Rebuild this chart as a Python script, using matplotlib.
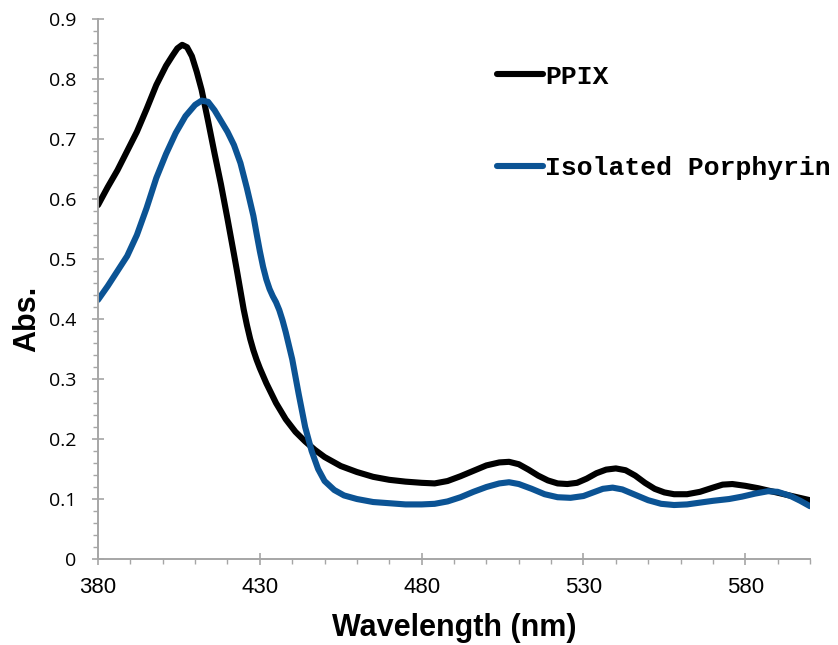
import matplotlib
matplotlib.use("Agg")
import matplotlib.pyplot as plt
from matplotlib.ticker import MultipleLocator

# --- data ---
ppix_nm = [380, 383, 386, 389, 392, 395, 398, 401, 403, 404.5, 406, 407.5, 409, 410.5, 412, 414, 416, 418,
           420, 422, 423, 424, 425, 426, 427, 428, 429, 430, 432, 435, 438, 441, 444, 447, 450, 455, 460,
           465, 470, 475, 480, 484, 488, 492, 496, 500, 504, 507, 510, 513, 516, 519, 522, 525, 528, 531,
           534, 537, 540, 543, 546, 549, 552, 555, 558, 562, 566, 570, 573, 576, 580, 584, 588, 592, 596, 600]
ppix_abs = [0.59, 0.62, 0.648, 0.68, 0.712, 0.75, 0.79, 0.822, 0.839, 0.851, 0.857, 0.853, 0.838, 0.812,
            0.782, 0.73, 0.676, 0.624, 0.567, 0.508, 0.478, 0.447, 0.416, 0.39, 0.367, 0.348, 0.332,
            0.318, 0.293, 0.26, 0.233, 0.212, 0.196, 0.182, 0.17, 0.155, 0.145, 0.137, 0.132, 0.129,
            0.127, 0.126, 0.13, 0.138, 0.147, 0.156, 0.161, 0.162, 0.158, 0.149, 0.139, 0.131, 0.126,
            0.125, 0.127, 0.134, 0.143, 0.149, 0.151, 0.148, 0.139, 0.127, 0.117, 0.111, 0.108, 0.108,
            0.112, 0.119, 0.124, 0.125, 0.122, 0.118, 0.113, 0.108, 0.103, 0.098]

iso_nm = [380, 383, 386, 389, 392, 395, 398, 401, 404, 407, 410, 412, 414, 416, 418, 420, 422, 424,
          426, 428, 429, 430, 431, 432, 433, 434, 435, 436, 437, 438, 440, 442, 444, 446, 448, 450, 453,
          456, 460, 465, 470, 475, 480, 484, 488, 492, 496, 500, 504, 507, 510, 514, 518, 522, 526, 530,
          533, 536, 539, 542, 546, 550, 554, 558, 562, 566, 570, 575, 579, 583, 587, 590, 594, 597, 600]
iso_abs = [0.432, 0.455, 0.48, 0.505, 0.54, 0.585, 0.635, 0.675, 0.71, 0.738, 0.757, 0.764, 0.762,
           0.748, 0.73, 0.712, 0.69, 0.66, 0.618, 0.572, 0.542, 0.513, 0.487, 0.466, 0.45, 0.438, 0.428,
           0.415, 0.398, 0.378, 0.333, 0.275, 0.22, 0.18, 0.15, 0.13, 0.115, 0.106, 0.1, 0.095, 0.093,
           0.091, 0.091, 0.092, 0.096, 0.103, 0.112, 0.12, 0.126, 0.128, 0.125, 0.117, 0.108, 0.103,
           0.102, 0.105, 0.111, 0.117, 0.119, 0.116, 0.107, 0.098, 0.092, 0.09, 0.091, 0.094, 0.097,
           0.1, 0.104, 0.109, 0.113, 0.112, 0.105, 0.097, 0.088]

series_labels = ["PPIX", "Isolated Porphyrin"]
x_ticks = [380, 430, 480, 530, 580]
y_ticks = [0, 0.1, 0.2, 0.3, 0.4, 0.5, 0.6, 0.7, 0.8, 0.9]
y_tick_labels = ["0", "0.1", "0.2", "0.3", "0.4", "0.5", "0.6", "0.7", "0.8", "0.9"]

fig = plt.figure(figsize=(8.38, 6.45), dpi=100)
ax = fig.add_axes([0.117, 0.1333, 0.8496, 0.8372])

lw = 4.4
ax.plot(ppix_nm, ppix_abs, color="#000000", lw=lw, label=series_labels[0],
        solid_capstyle="round", solid_joinstyle="round")
ax.plot(iso_nm, iso_abs, color="#0b5394", lw=lw, label=series_labels[1],
        solid_capstyle="round", solid_joinstyle="round")

ax.set_xlim(380, 600)
ax.set_ylim(0, 0.9)
ax.set_xticks(x_ticks)
ax.set_yticks(y_ticks)
ax.set_yticklabels(y_tick_labels)
ax.xaxis.set_minor_locator(MultipleLocator(10))
ax.yaxis.set_minor_locator(MultipleLocator(0.02))

grey = "#a6a6a6"
for s in ["top", "right"]:
    ax.spines[s].set_visible(False)
for s in ["left", "bottom"]:
    ax.spines[s].set_color(grey)
    ax.spines[s].set_linewidth(1.4)

ax.tick_params(which="major", direction="inout", length=9, width=1.2, color=grey)
ax.tick_params(which="minor", direction="out", length=3.5, width=1.0, color=grey)
ax.tick_params(axis="y", which="major", pad=11, labelsize=14)
ax.tick_params(axis="x", which="major", pad=8.5, labelsize=16)
for t in ax.get_xticklabels():
    t.set_fontfamily("Liberation Sans")
for t in ax.get_yticklabels():
    t.set_fontfamily("Open Sans")

ax.set_xlabel("Wavelength (nm)", fontsize=22, fontweight="bold", family="Liberation Sans", labelpad=11)
ax.set_ylabel("Abs.", fontsize=22, fontweight="bold", family="Liberation Sans")
ax.yaxis.set_label_coords(-0.078, 0.445)

leg = ax.legend(loc="upper left", bbox_to_anchor=(0.545, 0.935), frameon=False,
                prop={"family": "Liberation Mono", "weight": "bold", "size": 19},
                handlelength=1.75, handletextpad=0.1, labelspacing=2.55, borderaxespad=0)

fig.savefig("out.png", dpi=100)
